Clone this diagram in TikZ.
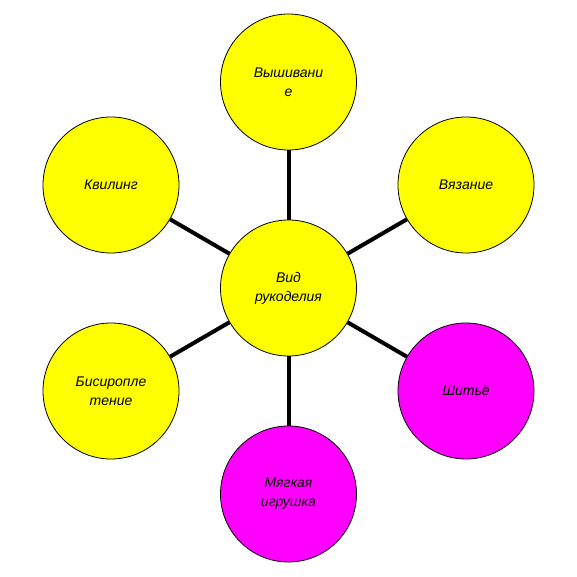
\documentclass[tikz,border=0pt]{standalone}
\usepackage{fontspec}
\setmainfont{Liberation Sans}
\usetikzlibrary{positioning}
\definecolor{CraftYellow}{HTML}{FFFF00}
\definecolor{CraftMagenta}{HTML}{FF00FF}
\tikzset{
    % Circle styles
    craft/.style={
        circle,
        draw=black,
        fill=CraftYellow,
        line width=0.8pt,
        minimum size=136pt,
        inner sep=0pt,
        align=center,
        font=\fontsize{14}{19}\selectfont\itshape
    },
    craftpink/.style={
        craft,
        fill=CraftMagenta
    },
    % Spoke style
    spoke/.style={
        line width=4pt,
        draw=black
    }
}
\begin{document}
\begin{tikzpicture}[x=1pt,y=-1pt]
    \useasboundingbox (0,0) rectangle (577,577);
    \node[craft] (hub) at (288.5,288) {Вид\\рукоделия};
    \node[craft] (embroid) at (288.5,82) {Вышивани\\е};
    \node[craft] (knit) at (466,185) {Вязание};
    \node[craft] (quill) at (111,185) {Квилинг};
    \node[craft] (beads) at (111,391) {Бисиропле\\тение};
    \node[craftpink] (sew) at (466,391) {Шитьё};
    \node[craftpink] (toy) at (288.5,494) {Мягкая\\игрушка};

    \draw[spoke] (hub) -- (embroid);
    \draw[spoke] (hub) -- (knit);
    \draw[spoke] (hub) -- (quill);
    \draw[spoke] (hub) -- (beads);
    \draw[spoke] (hub) -- (sew);
    \draw[spoke] (hub) -- (toy);
\end{tikzpicture}
\end{document}
